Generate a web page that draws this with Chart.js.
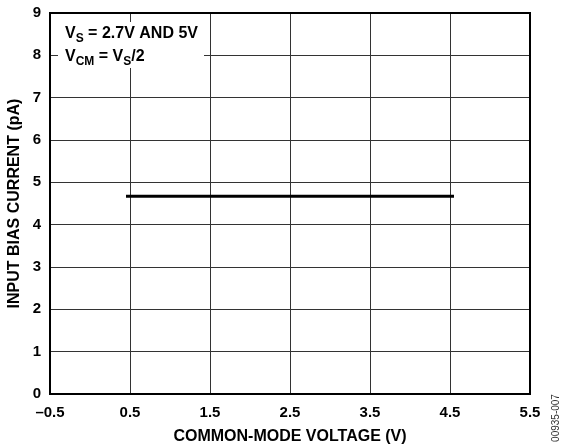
<!DOCTYPE html>
<html lang="en">
<head>
  <meta charset="UTF-8" />
  <title>Input Bias Current vs Common-Mode Voltage</title>
  <script src="https://cdn.jsdelivr.net/npm/chart.js"></script>
  <style>
    html,body{margin:0;padding:0;background:#fff}
    #wrap{width:563px;height:447px}
  </style>
</head>
<body>
  <div id="wrap"><canvas id="ibChart"></canvas></div>

  <script>
  // data
  const xTicks = [-0.5, 0.5, 1.5, 2.5, 3.5, 4.5, 5.5];
  const yTicks = [0, 1, 2, 3, 4, 5, 6, 7, 8, 9];
  const vcm = [0.45, 1.5, 2.5, 3.5, 4.55];
  const ibias = [4.67, 4.67, 4.67, 4.67, 4.67];

  const FONT = "'Liberation Sans', Arial, Helvetica, sans-serif";

  // white note box, frame and the figure number
  const extras = {
    id: 'extras',
    beforeDatasetsDraw(chart) {
      const {ctx, chartArea: a} = chart;
      ctx.save();
      ctx.fillStyle = '#fff';
      ctx.fillRect(a.left + 8, a.top + 9, 146, 46);
      ctx.fillStyle = '#000';
      const big = 'bold 16px ' + FONT, small = 'bold 12px ' + FONT;
      function seg(parts, x, y) {
        parts.forEach(p => {
          ctx.font = p[1] ? small : big;
          ctx.fillText(p[0], x, y + (p[1] ? 4 : 0));
          x += ctx.measureText(p[0]).width;
        });
      }
      ctx.textBaseline = 'alphabetic';
      seg([['V'], ['S', 1], [' = 2.7V AND 5V']], a.left + 15, a.top + 25);
      seg([['V'], ['CM', 1], [' = V'], ['S', 1], ['/2']], a.left + 15, a.top + 48);
      ctx.restore();
    },
    afterDraw(chart) {
      const {ctx, chartArea: a} = chart;
      ctx.save();
      ctx.strokeStyle = '#000';
      ctx.lineWidth = 2;
      ctx.strokeRect(a.left, a.top, a.right - a.left, a.bottom - a.top);
      ctx.translate(556, 418);
      ctx.rotate(-Math.PI / 2);
      ctx.font = '10px ' + FONT;
      ctx.fillStyle = '#333';
      ctx.textAlign = 'center';
      ctx.textBaseline = 'middle';
      ctx.fillText('00935-007', 0, 0);
      ctx.restore();
    }
  };

  const ctx = document.getElementById('ibChart').getContext('2d');
  new Chart(ctx, {
    type: 'line',
    data: {
      datasets: [{
        data: vcm.map((v, i) => ({x: v, y: ibias[i]})),
        borderColor: '#000',
        borderWidth: 3,
        pointRadius: 0,
        tension: 0,
        borderCapStyle: 'butt'
      }]
    },
    options: {
      responsive: true,
      maintainAspectRatio: false,
      animation: false,
      layout: {padding: {left: 0, top: 13, right: 33, bottom: 0}},
      plugins: {legend: {display: false}, tooltip: {enabled: false}},
      scales: {
        x: {
          type: 'linear',
          min: -0.5, max: 5.5,
          afterBuildTicks: s => { s.ticks = xTicks.map(v => ({value: v})); },
          afterFit: s => { s.height = 53; s.paddingLeft = 0; s.paddingRight = 0; },
          border: {display: false},
          grid: {color: '#333', lineWidth: 1, drawTicks: false},
          ticks: {
            color: '#000', padding: 10, maxRotation: 0,
            font: {family: FONT, size: 15, weight: 'bold'},
            callback: v => (v < 0 ? '\u2013' : '') + Math.abs(v).toFixed(1)
          },
          title: {
            display: true, text: 'COMMON-MODE VOLTAGE (V)', color: '#000',
            font: {family: FONT, size: 16, weight: 'bold'},
            padding: {top: 0, bottom: 1}
          }
        },
        y: {
          min: 0, max: 9,
          afterBuildTicks: s => { s.ticks = yTicks.map(v => ({value: v})); },
          afterFit: s => { s.width = 50; s.paddingTop = 0; s.paddingBottom = 0; },
          border: {display: false},
          grid: {color: '#333', lineWidth: 1, drawTicks: false},
          ticks: {
            color: '#000', padding: 9,
            font: {family: FONT, size: 15, weight: 'bold'}
          },
          title: {
            display: true, text: 'INPUT BIAS CURRENT (pA)', color: '#000',
            font: {family: FONT, size: 16, weight: 'bold'},
            padding: {top: 5, bottom: 0}
          }
        }
      }
    },
    plugins: [extras]
  });
  </script>
</body>
</html>
